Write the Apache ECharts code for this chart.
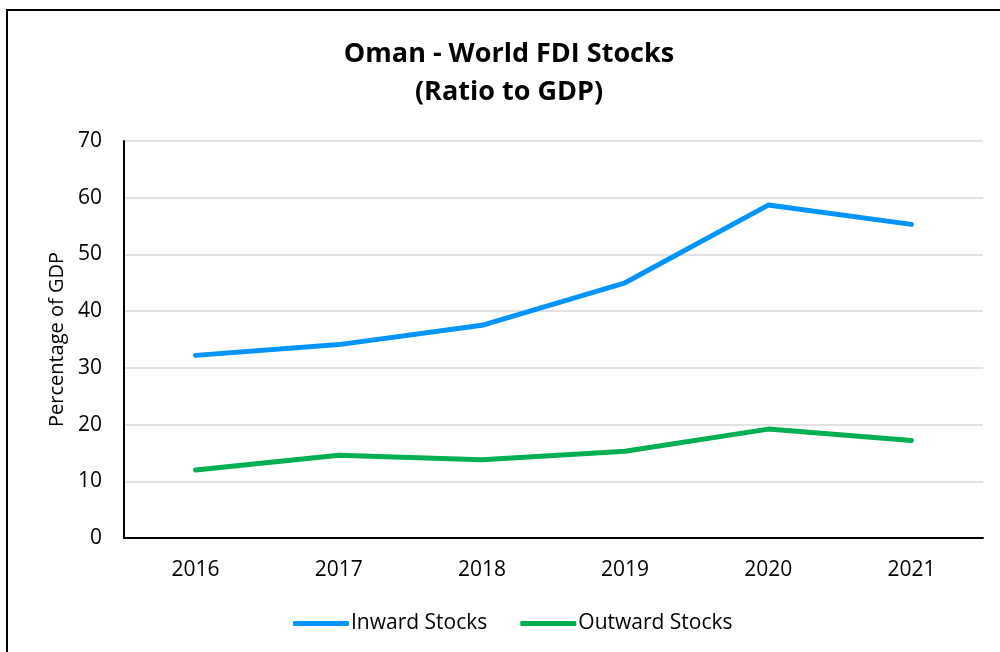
<!DOCTYPE html>
<html>
<head>
<meta charset="utf-8">
<script src="https://cdn.jsdelivr.net/npm/echarts@6/dist/echarts.min.js"></script>
<style>
    html, body { margin: 0; padding: 0; background: #fff; }
    #container { width: 1000px; height: 652px; }
</style>
</head>
<body>
<div id="container"></div>
<script>
    // 数据
    var years = ['2016', '2017', '2018', '2019', '2020', '2021'];
    var inwardStocks = [32.2, 34.1, 37.5, 45.0, 58.7, 55.3];
    var outwardStocks = [12.0, 14.6, 13.8, 15.3, 19.2, 17.2];
    var yTicks = [0, 10, 20, 30, 40, 50, 60, 70];

    var font = '"Open Sans", "Liberation Sans", sans-serif';

    var option = {
        animation: false,
        backgroundColor: '#fff',
        title: {
            text: 'Oman - World FDI Stocks\n(Ratio to GDP)',
            left: 509,
            top: 35,
            padding: 0,
            textAlign: 'center',
            textStyle: {
                fontFamily: font,
                fontSize: 27,
                fontWeight: 'bold',
                color: '#000',
                lineHeight: 38
            }
        },
        graphic: [{
            type: 'rect',
            shape: { x: 7, y: 10, width: 1100, height: 1000 },
            style: { fill: 'none', stroke: '#000', lineWidth: 2 },
            silent: true
        }],
        legend: {
            bottom: 13,
            left: 288,
            itemWidth: 56,
            itemHeight: 5,
            itemGap: 33,
            icon: 'roundRect',
            textStyle: { fontFamily: font, fontSize: 21, color: '#000', padding: [0, 0, 0, -3] },
            data: ['Inward Stocks', 'Outward Stocks']
        },
        grid: {
            left: 124,
            right: 17,
            top: 141,
            bottom: 114
        },
        xAxis: {
            type: 'category',
            data: years,
            boundaryGap: true,
            axisLine: { lineStyle: { color: '#000', width: 2 } },
            axisTick: { show: false },
            axisLabel: { fontFamily: font, fontSize: 21, color: '#000', margin: 22 }
        },
        yAxis: {
            type: 'value',
            min: yTicks[0],
            max: yTicks[yTicks.length - 1],
            interval: 10,
            name: 'Percentage of GDP',
            nameLocation: 'middle',
            nameGap: 57,
            nameTextStyle: { fontFamily: font, fontSize: 20, color: '#000' },
            axisLine: { show: true, lineStyle: { color: '#000', width: 2 } },
            axisTick: { show: false },
            axisLabel: { fontFamily: font, fontSize: 21, color: '#000', margin: 22 },
            splitLine: { lineStyle: { color: '#D9D9D9', width: 1.5 } }
        },
        series: [{
            name: 'Inward Stocks',
            type: 'line',
            data: inwardStocks,
            symbol: 'none',
            color: '#0094FF',
            lineStyle: { width: 5, cap: 'round', join: 'round' }
        }, {
            name: 'Outward Stocks',
            type: 'line',
            data: outwardStocks,
            symbol: 'none',
            color: '#00B050',
            lineStyle: { width: 5, cap: 'round', join: 'round' }
        }]
    };

    echarts.init(document.getElementById('container')).setOption(option);
</script>
</body>
</html>
